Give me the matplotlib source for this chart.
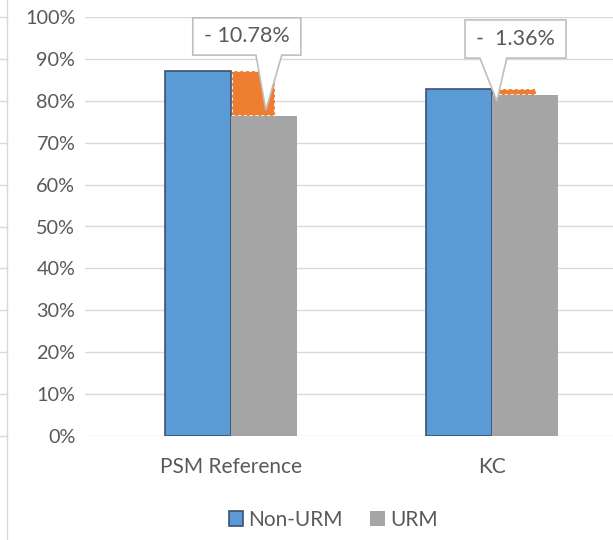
import numpy as np
import matplotlib.pyplot as plt
from matplotlib.patches import Polygon
from matplotlib.lines import Line2D

plt.rcParams['font.family'] = ['Lato', 'DejaVu Sans']

categories = ['PSM Reference', 'KC']
non_urm = [87.10, 82.80]
gap = [10.78, 1.36]
urm = [n - g for n, g in zip(non_urm, gap)]
yticks = np.arange(0, 101, 10)

fig = plt.figure(figsize=(6.13, 5.4), dpi=100)
ax = fig.add_axes([85 / 613, 1 - 436 / 540, 1 - 85 / 613, (436 - 17) / 540])

x = np.arange(len(categories))
w = 0.253

# orange difference bars sit behind the URM bars
ax.bar(x + 0.005, np.array(non_urm) - np.array(urm), width=0.165, bottom=urm,
       align='edge', color='#ed7d31', edgecolor='white', linestyle=(0, (2, 1.5)),
       linewidth=1.2, zorder=2)
ax.bar(x - w, non_urm, width=w, align='edge', color='#5b9bd5',
       edgecolor='#3b5070', linewidth=1.2, zorder=3, label='Non-URM')
ax.bar(x, urm, width=w, align='edge', color='#a5a5a5', linewidth=0,
       zorder=3, label='URM')

ax.set_xlim(-0.559, 1.464)
ax.set_ylim(0, 100)
ax.set_yticks(yticks)
ax.set_yticklabels([f'{t}%' for t in yticks])
ax.set_xticks(x)
ax.set_xticklabels(categories)
ax.tick_params(axis='y', length=0, pad=7, labelsize=14.3, colors='#595959')
ax.tick_params(axis='x', length=0, pad=15, labelsize=15, colors='#595959')
ax.grid(axis='y', color='#d9d9d9', linewidth=1, zorder=0)
ax.set_axisbelow(True)
for s in ax.spines.values():
    s.set_visible(False)

# callouts: (box left, box right, box top, box bottom, base left, base right, tip x) relative to category
shapes = [(-0.146, 0.268, 99.8, 90.9, 0.096, 0.195, 0.134),
          (-0.103, 0.284, 99.3, 90.2, -0.046, 0.057, 0.019)]
for i, (bl, br, bt, bb, pl, pr, tx) in enumerate(shapes):
    tip_y = urm[i] + (1.5 if i == 0 else -1.5)
    pts = [(i + bl, bt), (i + br, bt), (i + br, bb), (i + pr, bb),
           (i + tx, tip_y), (i + pl, bb), (i + bl, bb)]
    ax.add_patch(Polygon(pts, closed=True, facecolor='white', edgecolor='#bfbfbf',
                         linewidth=1.2, zorder=5, clip_on=False))
    ax.text(i + (bl + br) / 2, (bt + bb) / 2, f'- {gap[i]:5.2f}%', ha='center',
            va='center', fontsize=15.5, color='#595959', zorder=6)

# left border line and the stubs of the neighbouring gridlines
fig.add_artist(Line2D([7 / 613, 7 / 613], [0, 1], color='#d9d9d9', linewidth=1))
for t in yticks:
    yf = 1 - (436 - t * 4.19) / 540
    fig.add_artist(Line2D([0, 7 / 613], [yf, yf], color='#d9d9d9', linewidth=1))

fig.legend(loc='center', bbox_to_anchor=(333 / 613, 1 - 520 / 540), ncol=2,
           frameon=False, fontsize=15, labelcolor='#595959', handlelength=0.7,
           handleheight=0.7, handletextpad=0.25, columnspacing=1.3)

fig.savefig('out.png', dpi=100)
